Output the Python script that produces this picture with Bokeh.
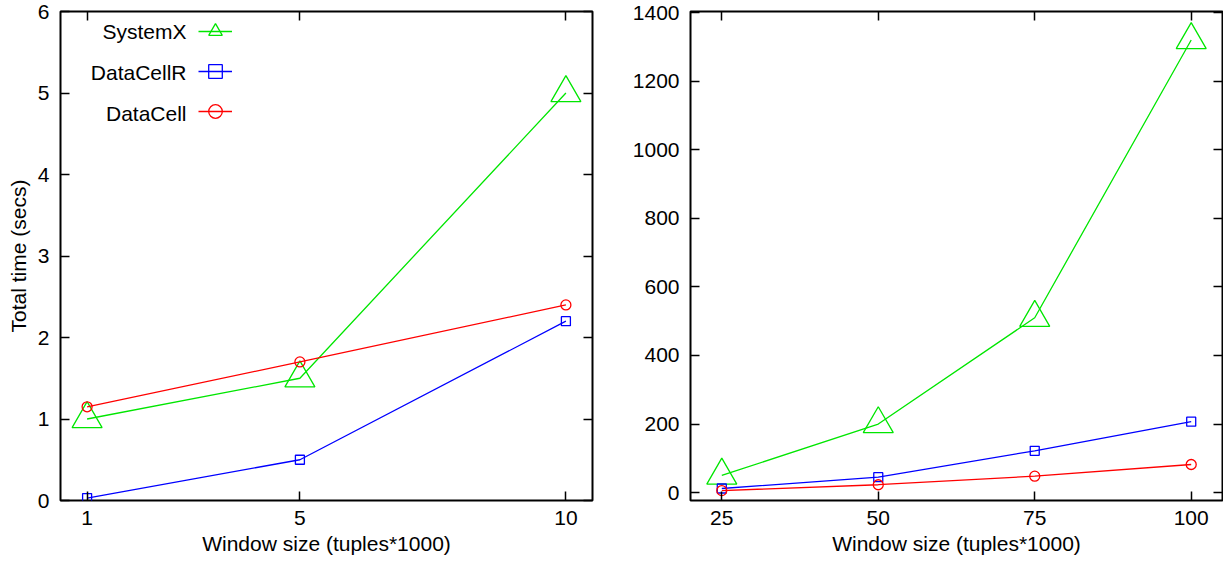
from bokeh.plotting import figure
from bokeh.layouts import row
from bokeh.models import FixedTicker, LinearAxis, Range1d, Legend, LegendItem, Label
from bokeh.embed import file_html
from bokeh.resources import INLINE

FONT = "Liberation Sans"
GREEN = "#00e600"
BLUE = "#0000ff"
RED = "#ff0000"

# Left panel: small windows
small_x = [1, 5, 10]
small_systemx = [1.0, 1.5, 5.0]
small_datacellr = [0.03, 0.5, 2.2]
small_datacell = [1.15, 1.7, 2.4]
small_x_ticks = [1, 5, 10]
small_y_ticks = [0, 1, 2, 3, 4, 5, 6]

# Right panel: large windows
large_x = [25, 50, 75, 100]
large_systemx = [50, 200, 510, 1320]
large_datacellr = [12, 45, 122, 207]
large_datacell = [6, 23, 48, 82]
large_x_ticks = [25, 50, 75, 100]
large_y_ticks = [0, 200, 400, 600, 800, 1000, 1200, 1400]

series_names = ["SystemX", "DataCellR", "DataCell"]
series_colors = [GREEN, BLUE, RED]
series_markers = ["triangle", "square", "circle"]
series_sizes = [30, 9, 10]

HEIGHT = 566
BORDER_TOP = 11
BORDER_BOTTOM = 66
FRAME_H = HEIGHT - BORDER_TOP - BORDER_BOTTOM


def style_axis(axis, show_labels=True):
    axis.axis_line_color = None
    axis.major_tick_in = 9
    axis.major_tick_out = 0
    axis.major_tick_line_color = "black"
    axis.major_tick_line_width = 1.5
    axis.minor_tick_line_color = None
    axis.major_label_text_font = FONT
    if show_labels:
        axis.major_label_text_font_size = "21px"
        axis.major_label_text_color = "black"
        axis.major_label_standoff = 10
    else:
        # mirror axis: ticks only
        axis.major_label_text_font_size = "1px"
        axis.major_label_text_color = None
        axis.major_label_standoff = 0
    axis.axis_label_text_font = FONT
    axis.axis_label_text_font_size = "21px"
    axis.axis_label_text_font_style = "normal"
    axis.axis_label_text_color = "black"


def make_panel(xs, series, x_range, y_range, x_ticks, y_ticks, width, border_left, border_right, y_label=None):
    p = figure(width=width, height=HEIGHT, x_range=Range1d(*x_range), y_range=Range1d(*y_range),
               output_backend="svg", toolbar_location=None,
               min_border_left=border_left, min_border_right=border_right,
               min_border_top=BORDER_TOP, min_border_bottom=BORDER_BOTTOM)
    p.grid.visible = False
    p.outline_line_color = "black"
    p.outline_line_width = 2
    p.background_fill_color = "white"
    p.border_fill_color = "white"

    p.xaxis.ticker = FixedTicker(ticks=x_ticks)
    p.yaxis.ticker = FixedTicker(ticks=y_ticks)
    p.xaxis.axis_label = "Window size (tuples*1000)"
    if y_label:
        p.yaxis.axis_label = y_label
    style_axis(p.xaxis[0])
    style_axis(p.yaxis[0])
    p.xaxis.axis_label_standoff = 4
    p.yaxis.axis_label_standoff = 5
    p.yaxis.major_label_standoff = 11

    # mirrored ticks on top and right, as in gnuplot
    top = LinearAxis(ticker=FixedTicker(ticks=x_ticks))
    right = LinearAxis(ticker=FixedTicker(ticks=y_ticks))
    style_axis(top, show_labels=False)
    style_axis(right, show_labels=False)
    p.add_layout(top, "above")
    p.add_layout(right, "right")

    renderers = []
    for ys, color, marker, size in zip(series, series_colors, series_markers, series_sizes):
        ln = p.line(xs, ys, line_color=color, line_width=1.3)
        pt = p.scatter(xs, ys, marker=marker, size=size, line_color=color,
                       fill_color=None, line_width=1.3)
        renderers.append([ln, pt])
    return p, renderers


p1, r1 = make_panel(small_x, [small_systemx, small_datacellr, small_datacell],
                    (0.5, 10.5), (0, 6), small_x_ticks, small_y_ticks,
                    width=629, border_left=60, border_right=37, y_label="Total time (secs)")

p2, r2 = make_panel(large_x, [large_systemx, large_datacellr, large_datacell],
                    (20, 105), (-23, 1403), large_x_ticks, large_y_ticks,
                    width=594, border_left=59, border_right=1)

# gnuplot-style key: text on the left, sample on the right
legend = Legend(items=[LegendItem(label=name, renderers=rs) for name, rs in zip(series_names, r1)],
                location=(138, FRAME_H - 120), orientation="vertical",
                glyph_width=34, glyph_height=40, spacing=0, padding=0, margin=0,
                label_text_font_size="1px", label_text_color=None,
                label_width=0, label_standoff=0,
                background_fill_alpha=0, border_line_alpha=0)
p1.add_layout(legend)

for i, name in enumerate(series_names):
    p1.add_layout(Label(x=126, y=FRAME_H - 20 - 41 * i, x_units="screen", y_units="screen",
                        text=name, text_align="right", text_baseline="middle",
                        text_font=FONT, text_font_size="21px", text_color="black"))

layout = row(p1, p2)
open("out.html", "w").write(file_html(layout, INLINE))
